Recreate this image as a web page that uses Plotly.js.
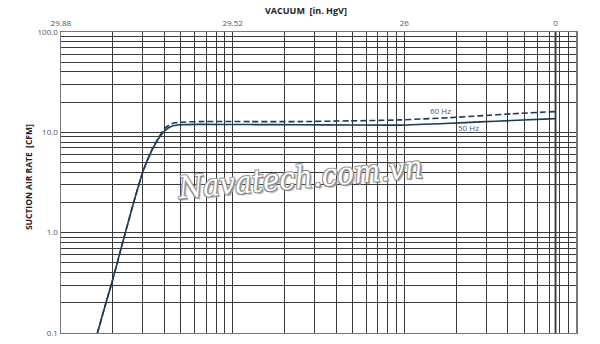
<!DOCTYPE html>
<html>
<head>
<meta charset="utf-8">
<script src="https://cdn.plot.ly/plotly-3.0.1.min.js"></script>
<style>html,body{margin:0;padding:0;background:#fff}#chart{width:600px;height:344px}</style>
</head>
<body>
<div id="chart"></div>
<script>
// Absolute pressure (torr) on a log scale, labelled as vacuum in inHgV
var pressure50 = [1.627, 1.828, 1.973, 2.305, 2.637, 3.015, 3.374, 3.687, 4.03, 4.41, 4.93, 6.45, 12.6, 24.7, 48.2, 94.3, 184, 276, 420, 760];
var flow50     = [0.099, 0.2,   0.312, 0.839, 1.94,  4.16,  6.56,  8.57,  10.4, 11.5, 11.9, 12.0, 11.95, 11.9, 11.85, 11.8, 12.3, 12.7, 13.1, 13.7];
var pressure60 = [1.627, 1.828, 1.973, 2.305, 2.637, 3.015, 3.374, 3.687, 4.03, 4.41, 4.93, 6.45, 12.6, 24.7, 48.2, 94.3, 184, 276, 420, 760];
var flow60     = [0.099, 0.2,   0.312, 0.839, 1.94,  4.16,  6.6,   8.75,  11.0, 12.2, 12.6, 12.8, 12.8, 12.8, 13.0, 13.3, 14.0, 14.6, 15.3, 16.1];

var vacuumTickPos = [1, 10, 100, 760];
var vacuumLabels  = ['29.88', '29.52', '26', '0'];
var flowTickPos   = [0.1, 1, 10, 100];
var flowLabels    = ['0.1', '1.0', '10.0', '100.0'];

function decadeGrid(lo, hi) {
  var v = [];
  for (var d = lo; d < hi; d *= 10) for (var k = 1; k < 10; k++) v.push(+(k * d).toPrecision(3));
  v.push(hi);
  return v;
}
function labelsFor(vals, pos, labs) {
  return vals.map(function (v) {
    var i = pos.indexOf(v);
    return i >= 0 ? labs[i] : '';
  });
}

var xGrid = decadeGrid(1, 1000);
var xVals = xGrid.concat([760]);
var xText = labelsFor(xVals, vacuumTickPos, vacuumLabels);
var yVals = decadeGrid(0.1, 100);
var yText = labelsFor(yVals, flowTickPos, flowLabels);

var lineColor = '#1b3b5a';
var traces = [
  {x: pressure60, y: flow60, mode: 'lines', name: '60 Hz', line: {color: lineColor, width: 1.6, dash: '6px,3px', shape: 'spline', smoothing: 0.5}, hoverinfo: 'skip'},
  {x: pressure50, y: flow50, mode: 'lines', name: '50 Hz', line: {color: lineColor, width: 1.6, shape: 'spline', smoothing: 0.5}, hoverinfo: 'skip'}
];

var layout = {
  width: 600, height: 344,
  margin: {l: 61, r: 24, t: 32, b: 11},
  paper_bgcolor: '#fff', plot_bgcolor: '#fff',
  showlegend: false,
  font: {family: 'Open Sans, sans-serif', size: 8, color: '#555'},
  xaxis: {
    type: 'log', range: [0, 3], side: 'top',
    tickmode: 'array', tickvals: xVals, ticktext: xText,
    ticks: '', showgrid: true, gridcolor: '#3a3a3a', gridwidth: 1,
    showline: true, linecolor: '#777', linewidth: 1, mirror: true, zeroline: false,
    tickfont: {size: 8, color: '#555'}, ticklabelstandoff: 2
  },
  yaxis: {
    type: 'log', range: [-1, 2],
    tickmode: 'array', tickvals: yVals, ticktext: yText,
    ticks: '', showgrid: true, gridcolor: '#3a3a3a', gridwidth: 1,
    showline: true, linecolor: '#777', linewidth: 1.5, mirror: true, zeroline: false,
    tickfont: {size: 8, color: '#555'}
  },
  shapes: [
    {type: 'line', xref: 'x', yref: 'paper', x0: 760, x1: 760, y0: 0, y1: 1, line: {color: '#8a8a8a', width: 2.5}, layer: 'below'}
  ],
  annotations: [
    {x: 0.476, y: 1.0698, xref: 'paper', yref: 'paper', xanchor: 'center', yanchor: 'middle',
     text: '<b>VACUUM  [in. HgV]</b>', showarrow: false, font: {size: 9, color: '#222'}},
    {x: -0.064, y: 0.518, xref: 'paper', yref: 'paper', xanchor: 'center', yanchor: 'middle',
     text: '<b>SUCTION AIR RATE  [CFM]</b>', showarrow: false, textangle: -90, font: {size: 8.5, color: '#222'}},
    {x: Math.log10(163), y: Math.log10(16.4), xref: 'x', yref: 'y', text: '60 Hz', showarrow: false, font: {size: 8, color: '#555'}},
    {x: Math.log10(238), y: Math.log10(11.1), xref: 'x', yref: 'y', text: '50 Hz', showarrow: false, font: {size: 8, color: '#555'}},
    {x: 0.464, y: 0.518, xref: 'paper', yref: 'paper', xanchor: 'center', yanchor: 'middle',
     text: 'Navatech.com.vn', showarrow: false, textangle: -5,
     font: {family: 'DejaVu Serif Condensed, DejaVu Serif, serif', size: 31, color: '#ffffff', style: 'italic',
            shadow: '1px 1px 0 #888, -1px -1px 0 #999, 1px -1px 0 #999, -1px 1px 0 #888, 2px 2px 1px #aaa'}}
  ]
};

Plotly.newPlot('chart', traces, layout, {staticPlot: true, displayModeBar: false});
</script>
</body>
</html>
